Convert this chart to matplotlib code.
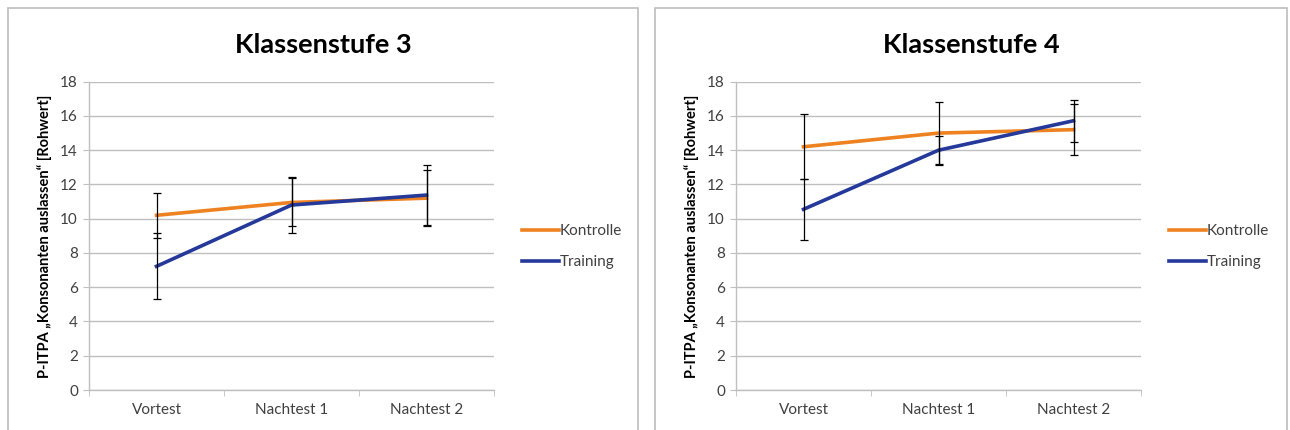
import numpy as np
import matplotlib.pyplot as plt
from matplotlib.patches import Rectangle

plt.rcParams['font.family'] = ['Lato', 'DejaVu Sans']

# ----------------------------
# Data
# ----------------------------
categories = ["Vortest", "Nachtest 1", "Nachtest 2"]
titles = ["Klassenstufe 3", "Klassenstufe 4"]

kontrolle_3 = [10.2, 10.95, 11.2]
kontrolle_3_err = [1.33, 1.4, 1.65]
training_3 = [7.22, 10.8, 11.38]
training_3_err = [1.93, 1.65, 1.75]

kontrolle_4 = [14.2, 15.0, 15.2]
kontrolle_4_err = [1.9, 1.8, 1.5]
training_4 = [10.55, 14.0, 15.72]
training_4_err = [1.78, 0.85, 1.24]

y_ticks = [0, 2, 4, 6, 8, 10, 12, 14, 16, 18]
y_label = "P-ITPA \u201eKonsonanten auslassen\u201c [Rohwert]"

orange = "#EE8220"
blue = "#24399A"
grid_color = "#BFBFBF"
text_color = "#404040"

W, H = 1290, 430
fig = plt.figure(figsize=(W / 100, H / 100), dpi=100)

# ----------------------------
# chart frames + titles
# ----------------------------
frames = [(8, 638), (655, 1287)]
for (x0, x1), title in zip(frames, titles):
    fig.patches.append(Rectangle((x0 / W, -0.1), (x1 - x0) / W, 1.1 - 8 / H,
                                 transform=fig.transFigure, fill=False,
                                 edgecolor="#BDBDBD", linewidth=1.2))
    fig.text((x0 + x1) / 2 / W, 1 - 45 / H, title, ha="center", va="center",
             fontsize=19.5, fontweight="bold")

panels = [
    (89, 494, kontrolle_3, kontrolle_3_err, training_3, training_3_err),
    (736, 1141, kontrolle_4, kontrolle_4_err, training_4, training_4_err),
]

x = np.arange(len(categories))

for px0, px1, k, k_err, t, t_err in panels:
    ax = fig.add_axes([px0 / W, 1 - 390 / H, (px1 - px0) / W, (390 - 81.7) / H])

    ax.plot(x, k, color=orange, linewidth=2.6, label="Kontrolle", zorder=3)
    ax.plot(x, t, color=blue, linewidth=2.6, label="Training", zorder=3)
    ax.errorbar(x, k, yerr=k_err, fmt="none", ecolor="black", elinewidth=0.9,
                capsize=3, capthick=0.9, zorder=4)
    ax.errorbar(x, t, yerr=t_err, fmt="none", ecolor="black", elinewidth=0.9,
                capsize=3, capthick=0.9, zorder=4)

    ax.set_xlim(-0.5, len(categories) - 0.5)
    ax.set_ylim(0, 18)
    ax.set_yticks(y_ticks)
    ax.set_xticks(x)
    ax.set_xticklabels(categories)
    ax.set_xticks(np.arange(-0.5, len(categories)), minor=True)
    ax.tick_params(axis="x", which="major", length=0, pad=9,
                   labelsize=11, labelcolor=text_color)
    ax.tick_params(axis="x", which="minor", length=4, color=grid_color)
    ax.tick_params(axis="y", length=4, color=grid_color, pad=4,
                   labelsize=11, labelcolor=text_color)

    ax.grid(axis="y", color=grid_color, linewidth=1)
    ax.set_axisbelow(True)
    for side in ["top", "right"]:
        ax.spines[side].set_visible(False)
    for side in ["left", "bottom"]:
        ax.spines[side].set_color(grid_color)
        ax.spines[side].set_linewidth(1)

    ax.set_ylabel(y_label, fontsize=10.5, fontweight="bold", color="black", labelpad=6)

    ax.legend(loc="center left", bbox_to_anchor=(1.035, 0.465), frameon=False,
              fontsize=11, handlelength=2.4, handletextpad=0.05,
              labelspacing=1.1, labelcolor=text_color)

fig.savefig("out.png", dpi=100)
